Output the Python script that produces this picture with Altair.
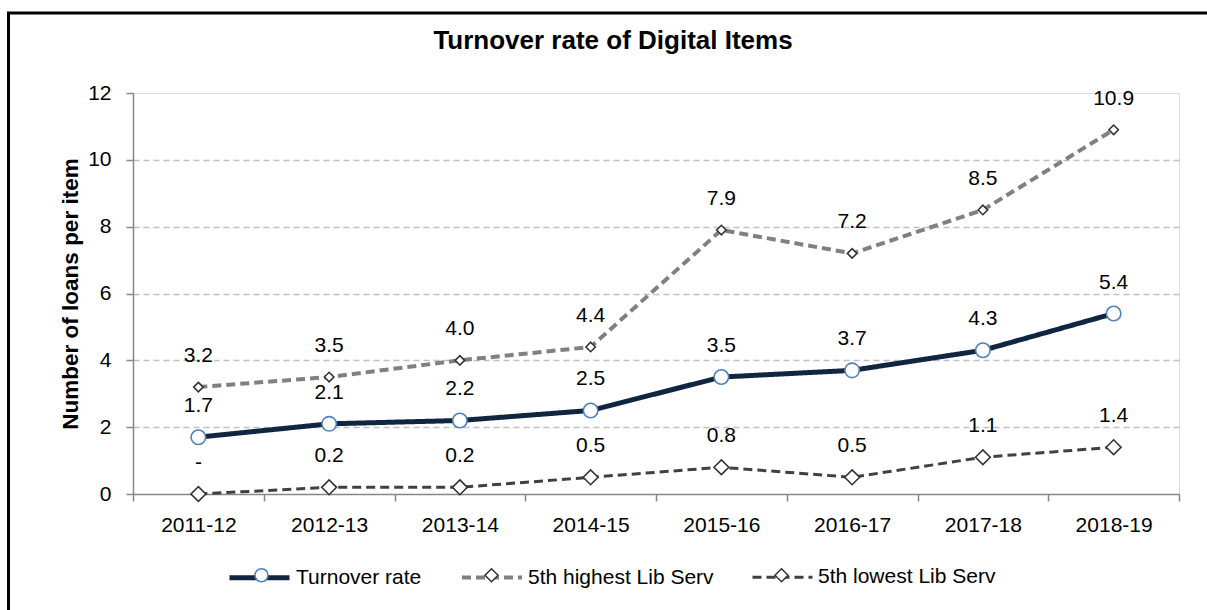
import json
import altair as alt
import pandas as pd

# ---- data ----
years = ["2011-12", "2012-13", "2013-14", "2014-15", "2015-16", "2016-17", "2017-18", "2018-19"]
turnover = [1.7, 2.1, 2.2, 2.5, 3.5, 3.7, 4.3, 5.4]
highest = [3.2, 3.5, 4.0, 4.4, 7.9, 7.2, 8.5, 10.9]
lowest = [0.0, 0.2, 0.2, 0.5, 0.8, 0.5, 1.1, 1.4]
series_names = ["Turnover rate", "5th highest Lib Serv", "5th lowest Lib Serv"]
y_ticks = [0, 2, 4, 6, 8, 10, 12]

# ---- styles ----
FONT = "Liberation Sans"
line_colors = ["#10253f", "#808080", "#404040"]
marker_strokes = ["#4f81bd", "#333333", "#333333"]
dashes = [[1, 0], [9, 5], [9, 5]]
widths = [5, 3, 3.5]
shapes = ["circle", "diamond", "diamond"]
sizes = [210, 90, 220]
AXIS_GREY = "#868686"

marker_names = [s + "\u200b" for s in series_names]

rows = []
for s, m, vals in zip(series_names, marker_names, [turnover, highest, lowest]):
    for i, (yr, v) in enumerate(zip(years, vals)):
        rows.append(dict(idx=i, year=yr, series=s, series_m=m, value=v,
                         label="-" if v == 0 else f"{v:.1f}"))
df = pd.DataFrame(rows)

xscale = alt.Scale(domain=[-0.5, len(years) - 0.5], nice=False, zero=False)
yscale = alt.Scale(domain=[0, 12], nice=False, zero=True)

label_axis = alt.Axis(
    values=list(range(len(years))),
    labelExpr=json.dumps(years) + "[datum.value]",
    ticks=False, grid=False, domain=True, domainColor=AXIS_GREY, domainWidth=1.5,
    labelFontSize=21, labelColor="black", labelPadding=20, labelFont=FONT,
    title=None, orient="bottom",
)
tick_axis = alt.Axis(
    values=[i - 0.5 for i in range(len(years) + 1)],
    labels=False, ticks=True, tickSize=7, tickColor=AXIS_GREY, tickWidth=1.5,
    domain=False, grid=False, title=None, orient="bottom",
)
y_axis = alt.Axis(
    values=y_ticks, title="Number of loans per item",
    titleFontSize=22.5, titleFontWeight="bold", titleFont=FONT, titleColor="black",
    titleX=-63, titleY=200.5, titleAlign="center", titleBaseline="middle", titleAngle=270,
    labelFontSize=21, labelFont=FONT, labelColor="black", labelPadding=15,
    tickSize=7, tickColor=AXIS_GREY, tickWidth=1.5,
    domainColor=AXIS_GREY, domainWidth=1.5,
    gridColor="#c0c0c0", gridDash=[6, 4], gridWidth=1.3,
    gridOpacity={"condition": {"test": "datum.value <= 0 || datum.value >= 12", "value": 0}, "value": 1},
)

legend_lines = alt.Legend(
    orient="none", direction="horizontal", legendX=94, legendY=452,
    title=None, symbolType="stroke", symbolSize=3600, labelOffset=4, labelLimit=0,
    labelFontSize=21, labelFont=FONT, labelColor="black", columnPadding=32, padding=0,
)
legend_markers = alt.Legend(
    orient="none", direction="horizontal", legendX=118, legendY=471.5,
    title=None, symbolSize=170, symbolStrokeWidth=1.5, symbolFillColor="white",
    labelOffset=51, labelLimit=0, labelFontSize=21, labelFont=FONT, labelOpacity=0,
    columnPadding=32, padding=0,
)

base = alt.Chart(df)
X_main = alt.X("idx:Q", scale=xscale, axis=label_axis)
Y_main = alt.Y("value:Q", scale=yscale, axis=y_axis)

lines = base.mark_line().encode(
    x=X_main,
    y=Y_main,
    color=alt.Color("series:N", scale=alt.Scale(domain=series_names, range=line_colors), legend=legend_lines),
    strokeDash=alt.StrokeDash("series:N", scale=alt.Scale(domain=series_names, range=dashes), legend=legend_lines),
    strokeWidth=alt.StrokeWidth("series:N", scale=alt.Scale(domain=series_names, range=widths), legend=legend_lines),
)

point_layers = []
for s, sz in zip(series_names, sizes):
    point_layers.append(
        base.transform_filter(alt.datum.series == s)
        .mark_point(filled=True, fill="white", strokeWidth=1.6, opacity=1, size=sz)
        .encode(
            x=alt.X("idx:Q", scale=xscale, axis=None),
            y=Y_main,
            shape=alt.Shape("series_m:N", scale=alt.Scale(domain=marker_names, range=shapes), legend=legend_markers),
            stroke=alt.Stroke("series_m:N", scale=alt.Scale(domain=marker_names, range=marker_strokes), legend=legend_markers),
        )
    )

labels = base.mark_text(fontSize=21, font=FONT, color="black", baseline="middle", dy=-31).encode(
    x=alt.X("idx:Q", scale=xscale, axis=tick_axis),
    y=Y_main,
    text="label:N",
)

frame = alt.Chart(alt.Data(values=[{}])).mark_rect(
    fillOpacity=0, stroke="black", strokeWidth=3
).encode(
    x=alt.value(-124.5), x2=alt.value(1090), y=alt.value(-80), y2=alt.value(530)
)

chart = alt.layer(lines, *point_layers, labels, frame).resolve_axis(x="independent").properties(
    width=1046, height=401,
    autosize=alt.AutoSizeParams(type="none"),
    padding={"left": 133, "top": 93, "right": 28, "bottom": 116},
    title=alt.TitleParams(
        "Turnover rate of Digital Items", fontSize=26, font=FONT, fontWeight="bold",
        color="black", anchor="middle", dx=-43, offset=-63.5, baseline="alphabetic",
    ),
).configure_view(stroke=AXIS_GREY, strokeWidth=1.5).configure(background="white")

chart.save("out.html", embed_options={"renderer": "svg", "actions": False})
